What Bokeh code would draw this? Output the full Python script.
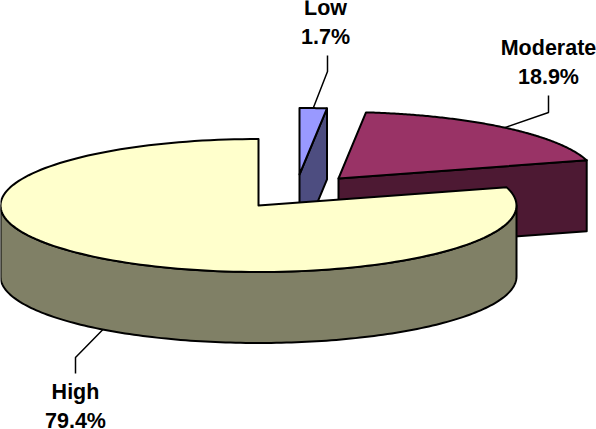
import numpy as np
from bokeh.embed import file_html
from bokeh.resources import INLINE
from bokeh.models import Range1d
from bokeh.plotting import figure
from bokeh.core.properties import value

categories = ["Low", "Moderate", "High"]
shares = [1.7, 18.9, 79.4]
labels = ["1.7%", "18.9%", "79.4%"]
top_colors = ["#9999FF", "#993366", "#FFFFCC"]
side_colors = ["#4D4D80", "#4D1933", "#808066"]

# layout of the projected pie, in page pixels
RX, RY, DEPTH = 258.0, 66.5, 71.0
apex = {"Low": (299.0, 174.0), "Moderate": (338.0, 178.0), "High": (258.0, 205.0)}
elbow = {"Low": (327, 71, 55), "Moderate": (548, 112, 95), "High": (75, 357, 373)}
text_pos = {"Low": (325, 7.5, 36.5), "Moderate": (548, 47.5, 76.5), "High": (75, 391.5, 420.5)}

edges = np.cumsum([0.0] + shares) / sum(shares) * 2 * np.pi
LW = 2.0
INK = "#000000"

p = figure(width=596, height=429, x_range=Range1d(0, 596), y_range=Range1d(429, 0),
           output_backend="svg", toolbar_location=None, min_border=0,
           background_fill_color="white", border_fill_color="white")
p.axis.visible = False
p.grid.visible = False
p.outline_line_color = None


def rim(name, a, b, n=160, drop=0.0):
    t = np.linspace(a, b, n)
    cx, cy = apex[name]
    return cx + RX * np.sin(t), cy - RY * np.cos(t) + drop


def patch(xs, ys, color):
    p.patch(list(xs), list(ys), fill_color=color, line_color=INK, line_width=LW, line_join="round")


def cut_wall(name, angle, color):
    cx, cy = apex[name]
    ex, ey = cx + RX * np.sin(angle), cy - RY * np.cos(angle)
    patch([cx, ex, ex, cx], [cy, ey, ey + DEPTH, cy + DEPTH], color)


def top(name, a, b, color):
    cx, cy = apex[name]
    x, y = rim(name, a, b)
    patch(np.r_[cx, x], np.r_[cy, y], color)


# Moderate
cut_wall("Moderate", edges[2], side_colors[1])
top("Moderate", edges[1], edges[2], top_colors[1])
# Low
cut_wall("Low", edges[1], side_colors[0])
top("Low", edges[0], edges[1], top_colors[0])
# High: outer wall (front half of the rim), then top
xo, yo = rim("High", np.pi / 2, 3 * np.pi / 2)
patch(np.r_[xo, xo[::-1]], np.r_[yo, yo[::-1] + DEPTH], side_colors[2])
top("High", edges[2], edges[3], top_colors[2])

# leader lines and labels
for i, name in enumerate(categories):
    mid = (edges[i] + edges[i + 1]) / 2
    cx, cy = apex[name]
    sx, sy = cx + RX * np.sin(mid), cy - RY * np.cos(mid)
    if np.cos(mid) < 0:
        sy += DEPTH
    ex, e1, e2 = elbow[name]
    p.line([sx, ex, ex], [sy, e1, e2], line_color=INK, line_width=1.5)
    tx, y1, y2 = text_pos[name]
    for txt, yy in ((name, y1), (labels[i], y2)):
        p.text([tx], [yy], text=[txt], text_font=value("Liberation Sans"), text_font_style="bold",
               text_font_size="21.5px", text_align="center", text_baseline="middle", text_color=INK)

open("out.html", "w").write(file_html(p, INLINE))
